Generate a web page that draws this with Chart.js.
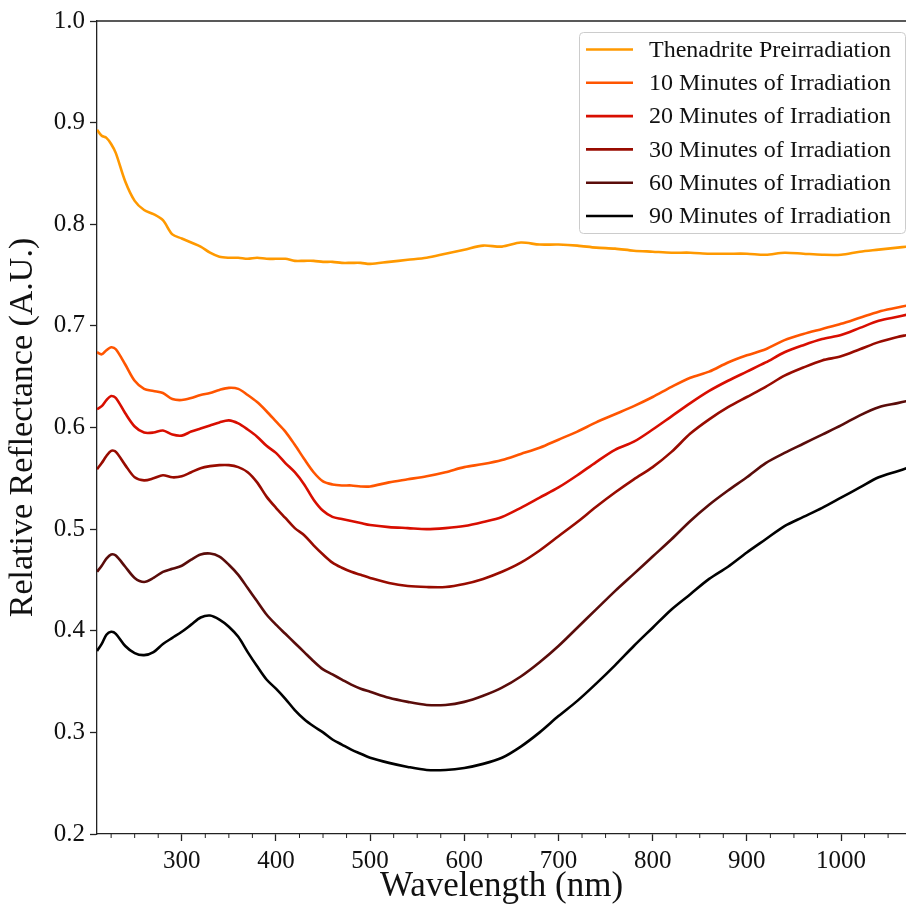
<!DOCTYPE html>
<html>
<head>
<meta charset="utf-8">
<script src="https://cdn.jsdelivr.net/npm/chart.js@4/dist/chart.umd.min.js"></script>
<style>
  html, body { margin: 0; padding: 0; background: #fff; }
  canvas { display: block; }
</style>
</head>
<body>
<canvas id="spectraChart" width="906" height="911"></canvas>
<script>
// wavelength grid (nm)
const wavelengths = [210, 215, 220, 225, 230, 240, 250, 260, 270, 280, 290, 300, 310, 320, 330, 340, 350, 360, 370, 380,
    390, 400, 410, 420, 430, 440, 450, 460, 470, 480, 490, 500, 520, 540, 560, 580, 600, 620, 640, 660,
    680, 700, 720, 740, 760, 780, 800, 820, 840, 860, 880, 900, 920, 940, 960, 980, 1000, 1020, 1040, 1060, 1070];

const preirradiation = [0.893, 0.887, 0.885, 0.879, 0.870, 0.842, 0.823, 0.814, 0.810, 0.804, 0.790, 0.786, 0.782, 0.778, 0.772, 0.768, 0.767, 0.767, 0.766, 0.767,
    0.766, 0.766, 0.766, 0.764, 0.764, 0.764, 0.763, 0.763, 0.762, 0.762, 0.762, 0.761, 0.763, 0.765, 0.767, 0.771, 0.775, 0.779, 0.778, 0.782,
    0.780, 0.780, 0.779, 0.777, 0.776, 0.774, 0.773, 0.772, 0.772, 0.771, 0.771, 0.771, 0.770, 0.772, 0.771, 0.770, 0.770, 0.773, 0.775, 0.777, 0.778];

const irr10 = [0.674, 0.672, 0.676, 0.679, 0.677, 0.662, 0.646, 0.638, 0.636, 0.634, 0.628, 0.627, 0.629, 0.632, 0.634, 0.637, 0.639, 0.638, 0.632, 0.625,
    0.616, 0.606, 0.596, 0.583, 0.569, 0.556, 0.547, 0.544, 0.543, 0.543, 0.542, 0.542, 0.546, 0.549, 0.552, 0.556, 0.561, 0.564, 0.568, 0.574,
    0.580, 0.588, 0.596, 0.605, 0.613, 0.621, 0.630, 0.640, 0.649, 0.655, 0.664, 0.671, 0.677, 0.686, 0.692, 0.697, 0.702, 0.708, 0.714, 0.718, 0.720];

const irr20 = [0.618, 0.621, 0.627, 0.631, 0.629, 0.614, 0.601, 0.595, 0.595, 0.597, 0.593, 0.592, 0.596, 0.599, 0.602, 0.605, 0.607, 0.604, 0.598, 0.591,
    0.582, 0.575, 0.565, 0.556, 0.544, 0.529, 0.518, 0.512, 0.510, 0.508, 0.506, 0.504, 0.502, 0.501, 0.500, 0.501, 0.503, 0.507, 0.512, 0.521,
    0.531, 0.541, 0.553, 0.566, 0.578, 0.586, 0.598, 0.611, 0.624, 0.636, 0.646, 0.655, 0.664, 0.674, 0.681, 0.687, 0.691, 0.698, 0.705, 0.709, 0.711];

const irr30 = [0.559, 0.565, 0.572, 0.577, 0.576, 0.563, 0.551, 0.548, 0.550, 0.553, 0.551, 0.552, 0.556, 0.560, 0.562, 0.563, 0.563, 0.561, 0.556, 0.546,
    0.532, 0.521, 0.511, 0.501, 0.494, 0.484, 0.475, 0.467, 0.462, 0.458, 0.455, 0.452, 0.447, 0.444, 0.443, 0.443, 0.446, 0.451, 0.458, 0.467,
    0.479, 0.493, 0.507, 0.522, 0.536, 0.549, 0.561, 0.576, 0.594, 0.608, 0.620, 0.630, 0.640, 0.651, 0.659, 0.666, 0.670, 0.677, 0.684, 0.689, 0.691];

const irr60 = [0.458, 0.464, 0.471, 0.475, 0.474, 0.463, 0.452, 0.448, 0.452, 0.458, 0.461, 0.464, 0.470, 0.475, 0.476, 0.473, 0.465, 0.455, 0.442, 0.429,
    0.416, 0.406, 0.397, 0.388, 0.379, 0.370, 0.362, 0.357, 0.352, 0.347, 0.343, 0.340, 0.334, 0.330, 0.327, 0.327, 0.330, 0.336, 0.344, 0.355,
    0.369, 0.385, 0.403, 0.421, 0.439, 0.456, 0.473, 0.490, 0.508, 0.524, 0.538, 0.551, 0.565, 0.575, 0.584, 0.593, 0.602, 0.612, 0.620, 0.624, 0.626];

const irr90 = [0.380, 0.387, 0.396, 0.399, 0.397, 0.385, 0.378, 0.376, 0.379, 0.387, 0.393, 0.399, 0.406, 0.413, 0.415, 0.411, 0.404, 0.394, 0.379, 0.365,
    0.352, 0.343, 0.333, 0.322, 0.313, 0.306, 0.300, 0.293, 0.288, 0.283, 0.279, 0.275, 0.270, 0.266, 0.263, 0.263, 0.265, 0.269, 0.275, 0.286,
    0.300, 0.316, 0.331, 0.348, 0.366, 0.385, 0.403, 0.421, 0.436, 0.451, 0.463, 0.477, 0.490, 0.503, 0.512, 0.521, 0.531, 0.541, 0.551, 0.557, 0.560];

const seriesLabels = ['Thenadrite Preirradiation', '10 Minutes of Irradiation', '20 Minutes of Irradiation',
    '30 Minutes of Irradiation', '60 Minutes of Irradiation', '90 Minutes of Irradiation'];
const seriesColors = ['#ff9900', '#ff5500', '#d80e00', '#980b00', '#5a0c0a', '#000000'];
const seriesValues = [preirradiation, irr10, irr20, irr30, irr60, irr90];

const xTicks = [300, 400, 500, 600, 700, 800, 900, 1000];
const yTicks = [0.2, 0.3, 0.4, 0.5, 0.6, 0.7, 0.8, 0.9, 1.0];

const serif = "'Liberation Serif', 'DejaVu Serif', serif";
const axisColor = '#222';

// top spine, minor x ticks and the legend box inside the plot
const extrasPlugin = {
    id: 'extras',
    afterDraw(chart) {
        const ctx = chart.ctx;
        const area = chart.chartArea;
        const xs = chart.scales.x;
        ctx.save();
        ctx.strokeStyle = axisColor;
        ctx.lineWidth = 1.3;
        ctx.beginPath();
        ctx.moveTo(area.left, area.top);
        ctx.lineTo(area.right, area.top);
        ctx.stroke();

        ctx.lineWidth = 1;
        for (let v = 225; v <= 1075; v += 25) {
            if (v % 100 === 0) continue;
            const px = xs.getPixelForValue(v);
            if (px < area.left || px > area.right) continue;
            ctx.beginPath();
            ctx.moveTo(px, area.bottom);
            ctx.lineTo(px, area.bottom + 4);
            ctx.stroke();
        }

        // legend
        const bx = 579, by = 32, bw = 326, bh = 201, r = 4;
        ctx.fillStyle = 'rgba(255,255,255,0.85)';
        ctx.strokeStyle = '#cccccc';
        ctx.lineWidth = 1;
        ctx.beginPath();
        ctx.roundRect(bx + 0.5, by + 0.5, bw, bh, r);
        ctx.fill();
        ctx.stroke();

        ctx.font = '24px ' + serif;
        ctx.textBaseline = 'middle';
        ctx.textAlign = 'left';
        chart.data.datasets.forEach((ds, i) => {
            const y = 49.5 + i * 33.3;
            ctx.strokeStyle = ds.borderColor;
            ctx.lineWidth = 2.6;
            ctx.beginPath();
            ctx.moveTo(586, y);
            ctx.lineTo(633, y);
            ctx.stroke();
            ctx.fillStyle = '#111';
            ctx.fillText(ds.label, 649, y + 1);
        });
        ctx.restore();
    }
};

new Chart(document.getElementById('spectraChart'), {
    type: 'line',
    data: {
        datasets: seriesValues.map((vals, i) => ({
            label: seriesLabels[i],
            data: wavelengths.map((w, j) => ({ x: w, y: vals[j] })),
            borderColor: seriesColors[i],
            backgroundColor: seriesColors[i],
            borderWidth: 2.6,
            pointRadius: 0,
            tension: 0.3,
            fill: false
        }))
    },
    options: {
        responsive: false,
        animation: false,
        layout: { padding: { top: 21, right: 0, left: 0, bottom: 0 } },
        plugins: {
            legend: { display: false },
            tooltip: { enabled: false }
        },
        scales: {
            x: {
                type: 'linear',
                min: 210,
                max: 1069,
                afterBuildTicks: (s) => { s.ticks = xTicks.map(v => ({ value: v })); },
                afterFit: (s) => { s.height = 77; },
                grid: { drawOnChartArea: false, tickLength: 7, color: axisColor, tickWidth: 1.3 },
                border: { display: true, color: axisColor, width: 1.3 },
                ticks: {
                    padding: 5,
                    maxRotation: 0,
                    color: '#111',
                    font: { family: serif, size: 25 },
                    callback: (v) => String(v)
                },
                title: {
                    display: true,
                    text: 'Wavelength (nm)',
                    color: '#111',
                    font: { family: serif, size: 35 },
                    padding: { top: 0, bottom: 3 }
                }
            },
            y: {
                min: 0.2,
                max: 1.0,
                afterBuildTicks: (s) => { s.ticks = yTicks.map(v => ({ value: v })); },
                afterFit: (s) => { s.width = 97; },
                grid: { drawOnChartArea: false, tickLength: 7, color: axisColor, tickWidth: 1.3 },
                border: { display: true, color: axisColor, width: 1.3 },
                ticks: {
                    padding: 5,
                    color: '#111',
                    font: { family: serif, size: 25 },
                    callback: (v) => Number(v).toFixed(1)
                },
                title: {
                    display: true,
                    text: 'Relative Reflectance (A.U.)',
                    color: '#111',
                    font: { family: serif, size: 34 },
                    padding: { top: 3, bottom: 0 }
                }
            }
        }
    },
    plugins: [extrasPlugin]
});
</script>
</body>
</html>
